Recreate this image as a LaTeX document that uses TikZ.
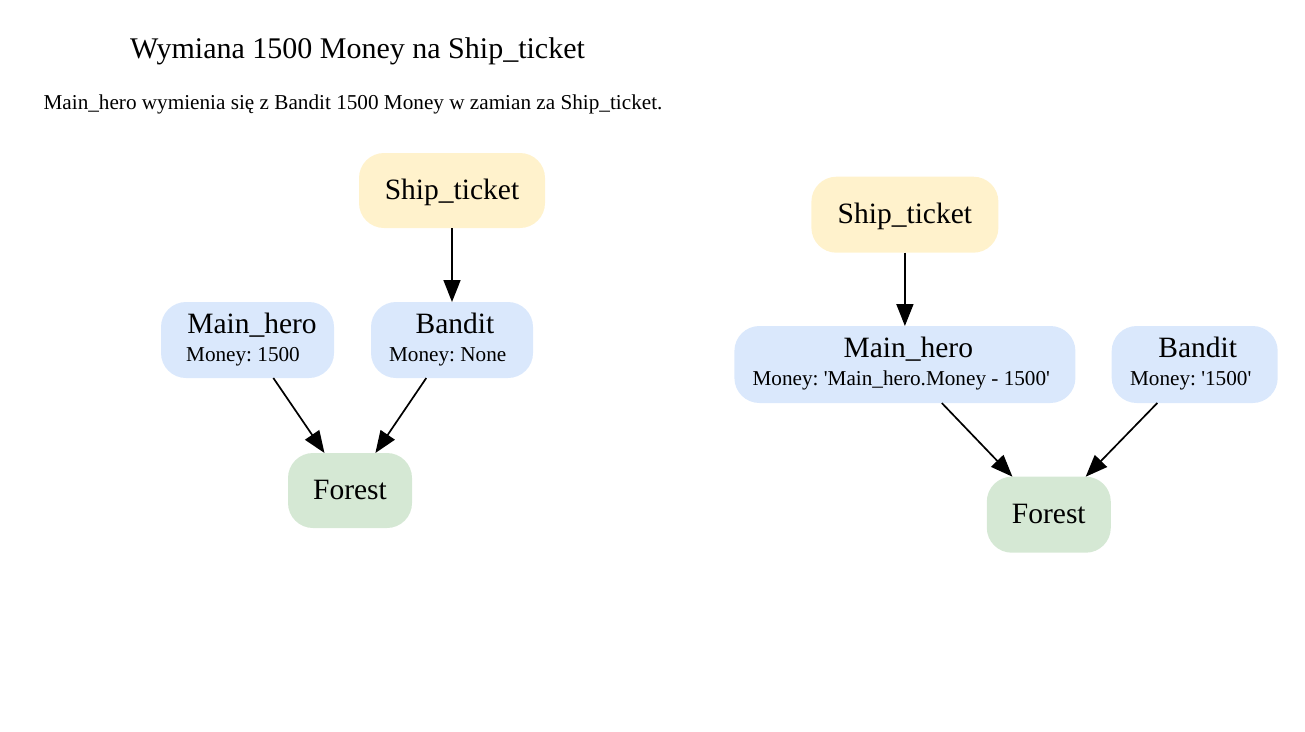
\documentclass[tikz,border=0pt]{standalone}
\usepackage{fontspec}
\setmainfont{Liberation Serif}
\usetikzlibrary{arrows.meta,calc}
\definecolor{cyellow}{HTML}{FFF2CC}
\definecolor{cblue}{HTML}{DAE8FC}
\definecolor{cgreen}{HTML}{D5E8D4}
\tikzset{
  box/.style={rectangle, rounded corners=25pt, inner sep=0pt, outer sep=0pt, text height=21pt, text depth=3pt,
    font=\fontsize{29.5}{35}\selectfont},
  ybox/.style={box, fill=cyellow},
  bbox/.style={box, fill=cblue},
  gbox/.style={box, fill=cgreen},
  big/.style={anchor=base, inner sep=0pt, font=\fontsize{29.5}{35}\selectfont},
  small/.style={anchor=base, inner sep=0pt, font=\fontsize{21.2}{25}\selectfont},
  edge/.style={line width=1.7pt, -{Triangle[length=22pt,width=17pt]}}
}
\frenchspacing
\begin{document}
\begin{tikzpicture}[x=1pt,y=-1pt]
\useasboundingbox (0,0) rectangle (1305,731);
% title
\node[anchor=base, inner sep=0pt, font=\fontsize{30}{36}\selectfont] (title) at (357.5,58.3) {Wymiana 1500 Money na Ship\_ticket};
\node[small] (subtitle) at (353,109) {Main\_hero wymienia się z Bandit 1500 Money w zamian za Ship\_ticket.};
% left graph
\node[ybox, minimum width=186pt, minimum height=75pt] (st1) at (452,190.5) {Ship\_ticket};
\node[bbox, minimum width=173pt, minimum height=76pt] (mh1) at (247.5,340) {};
\node[big] (mh1a) at ($(mh1)+(4.5,-7)$) {Main\_hero};
\node[small] (mh1b) at ($(mh1)+(-4.5,21.5)$) {Money: 1500};
\node[bbox, minimum width=162pt, minimum height=76pt] (b1) at (452,340) {};
\node[big] (b1a) at ($(b1)+(3,-7)$) {Bandit};
\node[small] (b1b) at ($(b1)+(-4.3,21.5)$) {Money: None};
\node[gbox, minimum width=124pt, minimum height=75pt] (f1) at (350,490.5) {Forest};
\draw[edge] (st1) -- (b1);
\draw[edge] (mh1) -- (f1);
\draw[edge] (b1) -- (f1);
% right graph
\node[ybox, minimum width=187pt, minimum height=76pt] (st2) at (904.9,214.7) {Ship\_ticket};
\node[bbox, minimum width=341pt, minimum height=77pt] (mh2) at (904.9,364.5) {};
\node[big] (mh2a) at ($(mh2)+(3.4,-7.2)$) {Main\_hero};
\node[small] (mh2b) at ($(mh2)+(-3.6,20.5)$) {Money: \textquotesingle Main\_hero.Money - 1500\textquotesingle};
\node[bbox, minimum width=166pt, minimum height=77pt] (b2) at (1194.7,364.5) {};
\node[big] (b2a) at ($(b2)+(3,-7.2)$) {Bandit};
\node[small] (b2b) at ($(b2)+(-4,20.5)$) {Money: \textquotesingle 1500\textquotesingle};
\node[gbox, minimum width=124pt, minimum height=76pt] (f2) at (1048.8,514.7) {Forest};
\draw[edge] (st2) -- (mh2);
\draw[edge] (mh2) -- (f2);
\draw[edge] (b2) -- (f2);
\end{tikzpicture}
\end{document}
